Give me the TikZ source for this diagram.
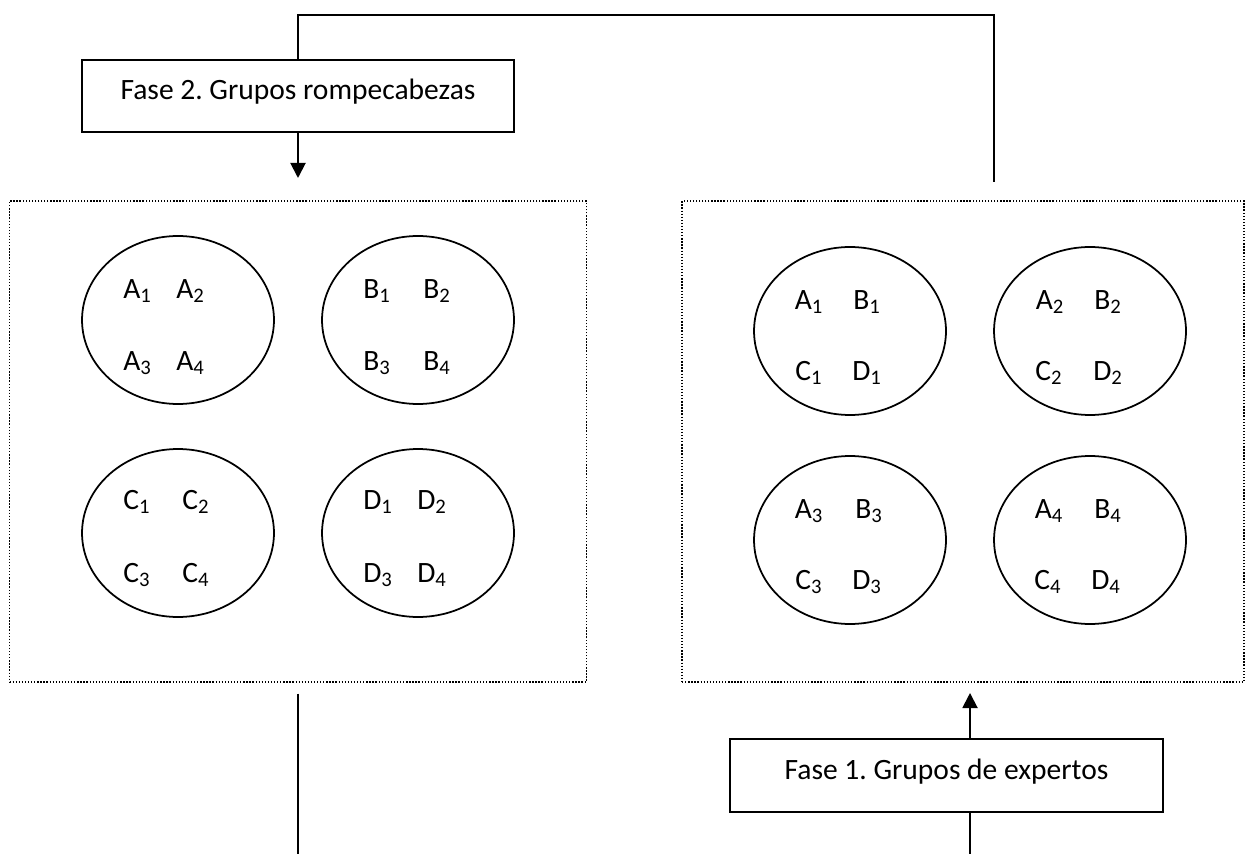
\documentclass[tikz,border=0pt]{standalone}
\usepackage{fontspec}
\setmainfont{Carlito}
\frenchspacing
\usepackage{tikz}
\usetikzlibrary{shapes}
\usetikzlibrary{positioning}
\usetikzlibrary{arrows.meta}
\tikzset{
    fase/.style = {rectangle, draw=black, line width=1.1pt, minimum width=8.65cm, minimum height=1.45cm, inner sep=0pt, text height=0.7em, text depth=0.45em},
    grupo/.style = {rectangle, draw=black, line width=0.75pt, densely dotted, minimum height=9.62cm, inner sep=0pt},
    equipo/.style = {ellipse, draw=black, line width=1pt, minimum width=3.84cm, minimum height=3.36cm, inner sep=0pt},
    alumno/.style = {inner sep=0pt},
    linea/.style = {line width=1.1pt},
    flecha/.style = {-{Triangle[length=0.3cm,width=0.3cm]}, line width=1.1pt},
    every picture/.style={font issue=\fontsize{16.8}{20}\selectfont},
    font issue/.style={execute at begin picture={#1}
  }
}

\begin{document}
\begin{tikzpicture}[x=0.02cm, y=-0.02cm]
\useasboundingbox (0, 0) rectangle (1246, 854);
%
\node[fase] at (298, 96) (fase2) {Fase 2. Grupos rompecabezas};
\node[fase] at (946.5, 775.5) (fase1) {Fase 1. Grupos de expertos};
\node[grupo, minimum width=11.54cm] at (298, 441.5) (rompe) {};
\node[grupo, minimum width=11.24cm] at (963, 441.5) (expertos) {};
%
\node[equipo] at (178, 320) (ga) {};
\node[equipo] at (418, 320) (gb) {};
\node[equipo] at (178, 533) (gc) {};
\node[equipo] at (418, 533) (gd) {};
\node[equipo] at (850, 331) (e1) {};
\node[equipo] at (1090, 331) (e2) {};
\node[equipo] at (850, 540) (e3) {};
\node[equipo] at (1090, 540) (e4) {};
%
\node[alumno] at (137.5, 291) (ra1) {A\textsubscript{1}};
\node[alumno] at (190.5, 291) (ra2) {A\textsubscript{2}};
\node[alumno] at (137.5, 363) (ra3) {A\textsubscript{3}};
\node[alumno] at (190.5, 363) (ra4) {A\textsubscript{4}};
\node[alumno] at (377, 291) (rb1) {B\textsubscript{1}};
\node[alumno] at (437, 291) (rb2) {B\textsubscript{2}};
\node[alumno] at (377, 363) (rb3) {B\textsubscript{3}};
\node[alumno] at (437, 363) (rb4) {B\textsubscript{4}};
\node[alumno] at (137, 502) (rc1) {C\textsubscript{1}};
\node[alumno] at (196, 502) (rc2) {C\textsubscript{2}};
\node[alumno] at (137, 575) (rc3) {C\textsubscript{3}};
\node[alumno] at (196, 575) (rc4) {C\textsubscript{4}};
\node[alumno] at (378, 502) (rd1) {D\textsubscript{1}};
\node[alumno] at (432, 502) (rd2) {D\textsubscript{2}};
\node[alumno] at (378, 575) (rd3) {D\textsubscript{3}};
\node[alumno] at (432, 575) (rd4) {D\textsubscript{4}};
%
\node[alumno] at (809, 302) (ea1) {A\textsubscript{1}};
\node[alumno] at (867, 302) (eb1) {B\textsubscript{1}};
\node[alumno] at (809, 373) (ec1) {C\textsubscript{1}};
\node[alumno] at (867, 373) (ed1) {D\textsubscript{1}};
\node[alumno] at (1050, 302) (ea2) {A\textsubscript{2}};
\node[alumno] at (1108, 302) (eb2) {B\textsubscript{2}};
\node[alumno] at (1049, 373) (ec2) {C\textsubscript{2}};
\node[alumno] at (1108, 373) (ed2) {D\textsubscript{2}};
\node[alumno] at (809, 511) (ea3) {A\textsubscript{3}};
\node[alumno] at (869, 511) (eb3) {B\textsubscript{3}};
\node[alumno] at (809, 582) (ec3) {C\textsubscript{3}};
\node[alumno] at (867, 582) (ed3) {D\textsubscript{3}};
\node[alumno] at (1049, 511) (ea4) {A\textsubscript{4}};
\node[alumno] at (1108, 511) (eb4) {B\textsubscript{4}};
\node[alumno] at (1048, 582) (ec4) {C\textsubscript{4}};
\node[alumno] at (1106, 582) (ed4) {D\textsubscript{4}};
%
\coordinate (codo) at (994, 15);
\coordinate (finr) at (994, 182);
\coordinate (puntar) at (298, 178);
\coordinate (salida) at (298, 854);
\coordinate (puntae) at (970, 693);
\coordinate (entrada) at (970, 854);
%
\draw[linea] (fase2.north) |- (codo) -- (finr);
\draw[flecha] (fase2.south) -- (puntar);
\draw[linea, shorten <=0.22cm] (rompe.south) -- (salida);
\draw[flecha] (fase1.north -| puntae) -- (puntae);
\draw[linea] (entrada) -- (fase1.south -| entrada);

\end{tikzpicture}
\end{document}
